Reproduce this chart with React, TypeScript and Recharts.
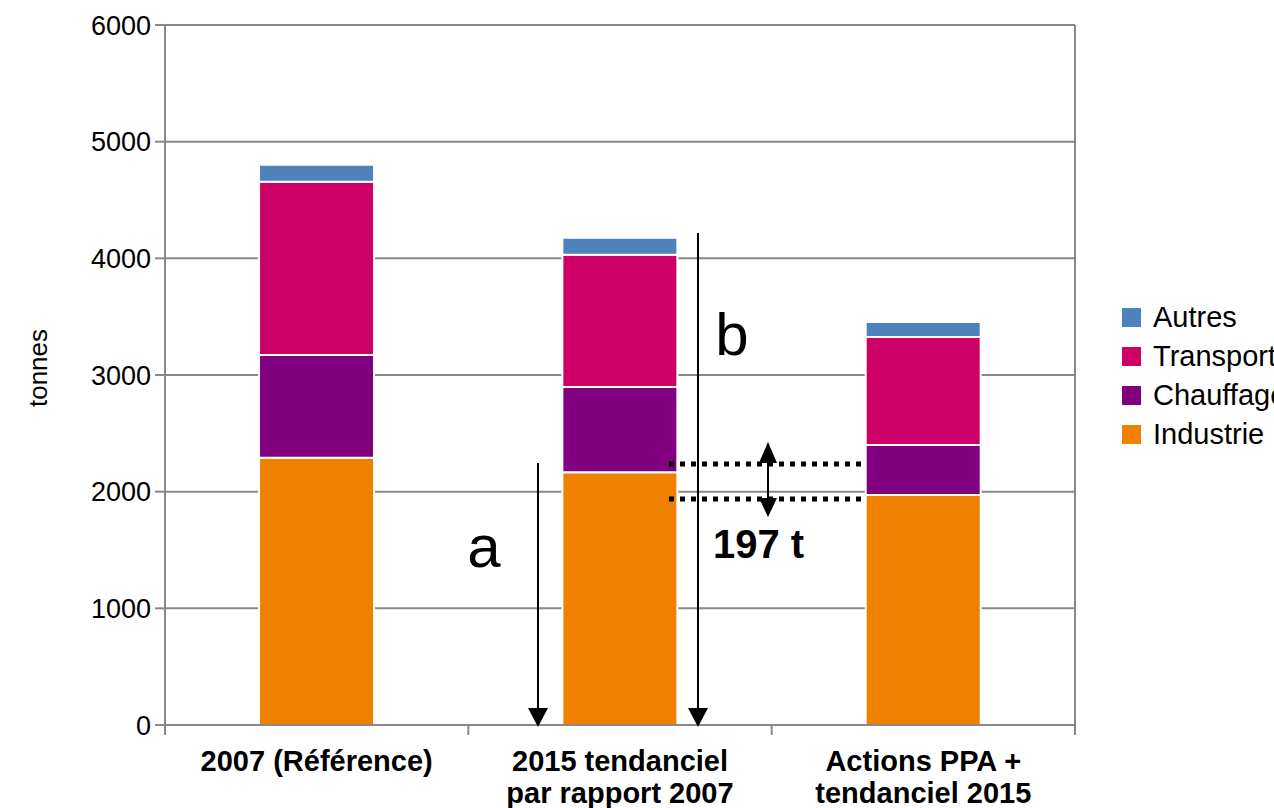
import React from 'react';
import { BarChart, Bar, XAxis, YAxis, CartesianGrid, Legend } from 'recharts';

const categories = ['2007 (Référence)', '2015 tendanciel\npar rapport 2007', 'Actions PPA +\ntendanciel 2015'];
const industrie = [2290, 2167, 1972];
const chauffage = [882, 730, 427];
const transport = [1485, 1133, 927];
const autres = [146, 146, 129];
const yTicks = [0, 1000, 2000, 3000, 4000, 5000, 6000];
const seriesKeys = ['Industrie', 'Chauffage', 'Transport', 'Autres'];
const seriesColors = ['#F08000', '#800080', '#CC0066', '#4F81BD'];
const legendLabels = ['Autres', 'Transport', 'Chauffage', 'Industrie'];

const FONT = '"Liberation Sans", Arial, sans-serif';

const data = categories.map((name, i) => ({
  name,
  Industrie: industrie[i],
  Chauffage: chauffage[i],
  Transport: transport[i],
  Autres: autres[i],
}));

const CategoryTick = (props: any) => {
  const { x, y, payload, index, visibleTicksCount } = props;
  const half = payload && payload.offset ? payload.offset : 0;
  const axisY = y - 8;
  const lines = String(payload.value).split('\n');
  const isLast = index === (visibleTicksCount ?? categories.length) - 1;
  return (
    <g>
      <line x1={x - half} y1={axisY} x2={x - half} y2={axisY + 10} stroke="#888" strokeWidth={2} />
      {isLast && <line x1={x + half} y1={axisY} x2={x + half} y2={axisY + 10} stroke="#888" strokeWidth={2} />}
      <text x={x} y={axisY} textAnchor="middle" fontFamily={FONT} fontSize={29} fontWeight="bold" fill="#000">
        {lines.map((l, i) => (
          <tspan key={i} x={x} y={axisY + 46 + i * 32}>{l}</tspan>
        ))}
      </text>
    </g>
  );
};

const renderLegend = () => (
  <div style={{ fontFamily: FONT, fontSize: 29, color: '#000', whiteSpace: 'nowrap' }}>
    {legendLabels.map((l) => {
      const c = seriesColors[seriesKeys.indexOf(l)];
      return (
        <div key={l} style={{ display: 'flex', alignItems: 'center', height: 39 }}>
          <div style={{ width: 19, height: 19, background: c, marginLeft: 12, marginRight: 12 }} />
          <span>{l}</span>
        </div>
      );
    })}
  </div>
);

export default function App() {
  return (
    <div style={{ position: 'absolute', left: 0, top: 0, width: 1274, height: 808, overflow: 'hidden', background: '#fff' }}>
      <BarChart
        width={1274}
        height={808}
        data={data}
        margin={{ top: 25, right: 199, left: 0, bottom: 0 }}
        barCategoryGap="31%"
      >
        <CartesianGrid
          xAxisId="cat"
          yAxisId="left"
          vertical={true}
          verticalCoordinatesGenerator={({ offset }: any) => [offset.left + offset.width]}
          stroke="#888"
          strokeWidth={2}
        />
        <XAxis
          xAxisId="cat"
          dataKey="name"
          height={83}
          interval={0}
          tickLine={false}
          axisLine={{ stroke: '#888', strokeWidth: 2 }}
          tick={<CategoryTick />}
        />
        <YAxis
          yAxisId="left"
          width={165}
          domain={[0, 6000]}
          ticks={yTicks}
          interval={0}
          tickSize={10}
          tickMargin={4}
          tickLine={{ stroke: '#888', strokeWidth: 2 }}
          axisLine={{ stroke: '#888', strokeWidth: 2 }}
          tick={{ fontSize: 27, fill: '#000', fontFamily: FONT }}
        />
        {seriesKeys.map((k, i) => (
          <Bar
            key={k}
            dataKey={k}
            xAxisId="cat"
            yAxisId="left"
            stackId="s"
            fill={seriesColors[i]}
            stroke="#fff"
            strokeWidth={2}
            isAnimationActive={false}
          />
        ))}
        <Legend
          layout="horizontal"
          verticalAlign="middle"
          align="center"
          content={renderLegend}
          wrapperStyle={{ position: 'absolute', left: 1110, top: 298, width: 200 }}
        />
      </BarChart>
      <svg width={1274} height={808} style={{ position: 'absolute', left: 0, top: 0, pointerEvents: 'none' }}>
        <text transform="translate(47,368) rotate(-90)" textAnchor="middle" fontFamily={FONT} fontSize={26} fill="#000">tonnes</text>
        {/* arrow a */}
        <line x1={538} y1={463} x2={538} y2={710} stroke="#000" strokeWidth={2} />
        <polygon points="528,708 548,708 538,727" fill="#000" />
        {/* arrow b */}
        <line x1={698} y1={233} x2={698} y2={710} stroke="#000" strokeWidth={2} />
        <polygon points="688,708 708,708 698,727" fill="#000" />
        <text x={484} y={567} textAnchor="middle" fontFamily={FONT} fontSize={60} fill="#000">a</text>
        <text x={732} y={355} textAnchor="middle" fontFamily={FONT} fontSize={60} fill="#000">b</text>
        {/* dotted lines */}
        <line x1={669} y1={464} x2={861} y2={464} stroke="#000" strokeWidth={5} strokeDasharray="5 6" />
        <line x1={669} y1={499} x2={861} y2={499} stroke="#000" strokeWidth={5} strokeDasharray="5 6" />
        {/* double arrow */}
        <line x1={768} y1={460} x2={768} y2={500} stroke="#000" strokeWidth={2} />
        <polygon points="759,463 777,463 768,442" fill="#000" />
        <polygon points="759,498 777,498 768,517" fill="#000" />
        <text x={713} y={558} fontFamily={FONT} fontSize={40} fontWeight="bold" fill="#000">197 t</text>
      </svg>
    </div>
  );
}
